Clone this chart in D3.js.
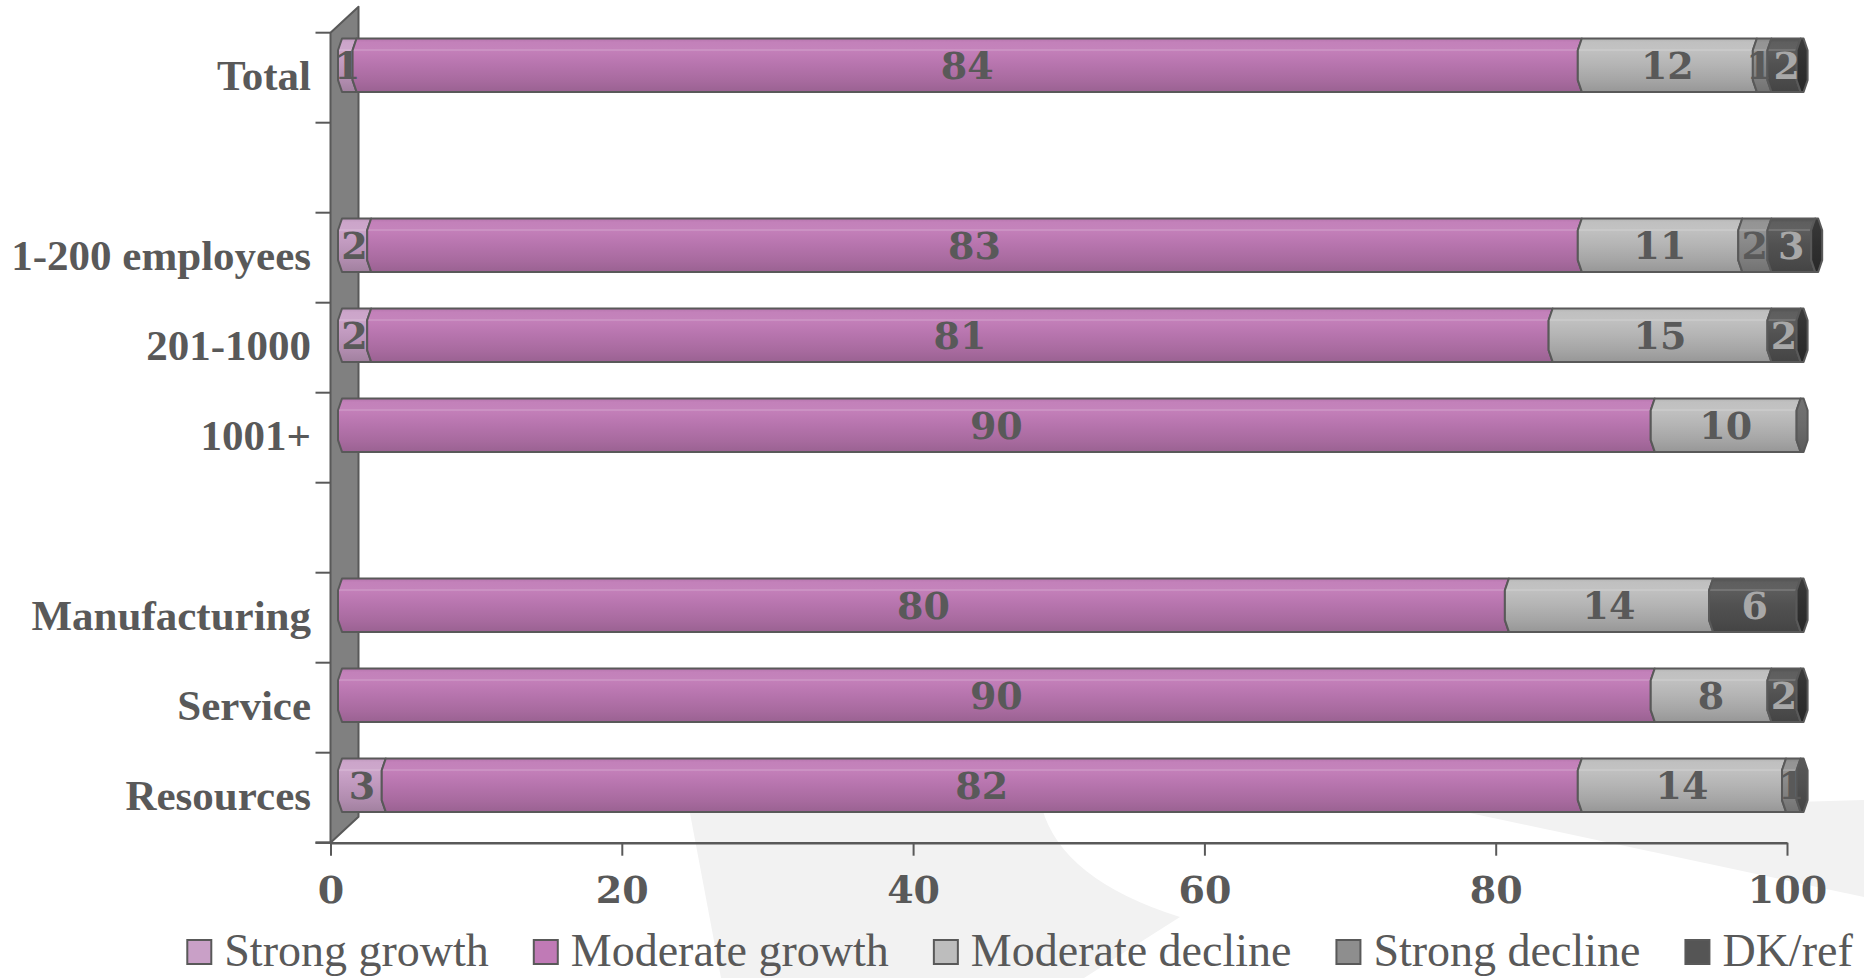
<!DOCTYPE html>
<html>
<head>
<meta charset="utf-8">
<script src="https://cdn.jsdelivr.net/npm/d3@7"></script>
<style>
  html, body { margin: 0; padding: 0; background: #ffffff; overflow: hidden; }
  svg { display: block; }
</style>
</head>
<body>
<svg id="chart" width="1864" height="978"></svg>
<script>
// ---- data -------------------------------------------------------------
// Empty strings are spacer rows between the groups of bars.
const categories = ["Total", "", "1-200 employees", "201-1000", "1001+", "", "Manufacturing", "Service", "Resources"];
const seriesNames = ["Strong growth", "Moderate growth", "Moderate decline", "Strong decline", "DK/ref"];
const strongGrowth    = [1,  null, 2,  2,  0,  null, 0,  0,  3];
const moderateGrowth  = [84, null, 83, 81, 90, null, 80, 90, 82];
const moderateDecline = [12, null, 11, 15, 10, null, 14, 8,  14];
const strongDecline   = [1,  null, 2,  0,  0,  null, 0,  0,  1];
const dkRef           = [2,  null, 3,  2,  0,  null, 6,  2,  0];
const xTicks = [0, 20, 40, 60, 80, 100];
const seriesColors = ["#c9a0c7", "#c07ab6", "#bdbdbd", "#8e8e8e", "#555555"];

// ---- setup ------------------------------------------------------------
const W = 1864, H = 978;
const ink = "#595959";
const svg = d3.select("#chart");
const defs = svg.append("defs");

const seriesValues = [strongGrowth, moderateGrowth, moderateDecline, strongDecline, dkRef];
const rows = categories.map((label, i) => {
  const r = { index: i, label, empty: moderateGrowth[i] == null };
  seriesNames.forEach((k, s) => { r[k] = seriesValues[s][i]; });
  return r;
});
const barRows = rows.filter(r => !r.empty);

// plot geometry
const plotTop = 32.7, plotBottom = 842.7;
const wallX = 330.5, depthX = 28, depthY = 26;

const y = d3.scaleBand().domain(d3.range(categories.length)).range([plotTop, plotBottom]).paddingInner(0).paddingOuter(0);
const xAxisScale = d3.scaleLinear().domain([0, 100]).range([wallX, 1787]);
// bars sit part-way into the depth of the 3D box, so they are offset from the axis scale
const xBar = d3.scaleLinear().domain([0, 100]).range([342, 1800.6]);
const barH = 53.4, barLift = 12.5;
const barTop = i => y(i) + (y.bandwidth() - barH) / 2 - barLift;

// ---- faint background swoosh -------------------------------------------
const bg = svg.append("g").attr("fill", "#f2f2f2");
bg.append("path").attr("d", "M689,808 L1042,808 Q1062,880 1180,917 L1084,978 L721,978 Z");
bg.append("path").attr("d", "M1465,812 L1864,800 L1864,897 Z");

// ---- side wall ----------------------------------------------------------
svg.append("path")
  .attr("d", `M${wallX},${plotTop} L${wallX + depthX},${plotTop - depthY} L${wallX + depthX},${plotBottom - depthY} L${wallX},${plotBottom} Z`)
  .attr("fill", "#808080").attr("stroke", ink).attr("stroke-width", 2).attr("stroke-linejoin", "round");

// category tick marks to the left of the wall
const boundaries = d3.range(categories.length + 1).map(i => plotTop + i * y.bandwidth());
svg.append("g").selectAll("line").data(boundaries).join("line")
  .attr("x1", wallX - 15).attr("x2", wallX).attr("y1", d => d).attr("y2", d => d)
  .attr("stroke", ink).attr("stroke-width", 2);

// ---- x axis -------------------------------------------------------------
const xAxis = d3.axisBottom(xAxisScale).tickValues(xTicks).tickSize(13).tickPadding(20).tickSizeOuter(0);
const gx = svg.append("g").attr("transform", `translate(0,${plotBottom})`).call(xAxis);
gx.select(".domain").attr("stroke", ink).attr("stroke-width", 2.5);
gx.selectAll(".tick line").attr("stroke", ink).attr("stroke-width", 2);
gx.selectAll(".tick text")
  .attr("fill", ink).attr("font-family", "'DejaVu Serif', serif").attr("font-weight", "bold")
  .attr("font-size", 38).attr("dy", "0.71em");
svg.append("line").attr("x1", wallX - 15).attr("x2", wallX).attr("y1", plotBottom).attr("y2", plotBottom)
  .attr("stroke", ink).attr("stroke-width", 2.5);

// ---- category labels --------------------------------------------------
svg.append("g").selectAll("text").data(rows.filter(r => r.label)).join("text")
  .attr("x", 311).attr("y", r => y(r.index) + y.bandwidth() / 2)
  .attr("dy", "0.28em")
  .attr("text-anchor", "end")
  .attr("font-family", "'Liberation Serif', serif").attr("font-weight", "bold").attr("font-size", 43)
  .attr("fill", ink)
  .text(r => r.label);

// ---- gradients for the prism-shaped bars --------------------------------
function shade(c, k) { return d3.interpolateRgb(c, k > 0 ? "#ffffff" : "#000000")(Math.abs(k)); }
seriesColors.forEach((c, s) => {
  const g = defs.append("linearGradient").attr("id", "grad" + s).attr("x1", 0).attr("y1", 0).attr("x2", 0).attr("y2", 1);
  [[0, -0.05], [0.07, 0.05], [0.19, 0.07], [0.2, 0.18], [0.225, 0.18], [0.235, 0.04], [0.5, -0.05], [0.8, -0.13], [1, -0.2]]
    .forEach(([o, k]) => g.append("stop").attr("offset", o).attr("stop-color", shade(c, k)));
  const gc = defs.append("linearGradient").attr("id", "cap" + s).attr("x1", 0).attr("y1", 0).attr("x2", 0).attr("y2", 1);
  const dark = d3.color(c).darker(1.6).formatHex();
  [[0, shade(dark, 0.05)], [0.5, dark], [1, shade(dark, -0.15)]]
    .forEach(([o, col]) => gc.append("stop").attr("offset", o).attr("stop-color", col));
});

// ---- stacked bars -------------------------------------------------------
const stacked = d3.stack().keys(seriesNames).value((d, k) => d[k] || 0)(barRows);
const bulge = 4, cutFrac = 0.22;

function segmentPath(x0, x1, t, h) {
  const b = t + h, c1 = t + h * cutFrac, c2 = b - h * cutFrac;
  return `M${x0},${t} L${x1},${t} L${x1 - bulge},${c1} L${x1 - bulge},${c2} L${x1},${b} ` +
         `L${x0},${b} L${x0 - bulge},${c2} L${x0 - bulge},${c1} Z`;
}
function capPath(x1, t, h) {
  const b = t + h, c1 = t + h * cutFrac, c2 = b - h * cutFrac;
  return `M${x1},${t} L${x1 + 3},${t} L${x1 + 7},${c1} L${x1 + 7},${c2} L${x1 + 3},${b} L${x1},${b} ` +
         `L${x1 - bulge},${c2} L${x1 - bulge},${c1} Z`;
}

const barsG = svg.append("g");
stacked.forEach((layer, s) => {
  barsG.append("g").selectAll("path").data(layer.filter(d => d[1] - d[0] > 0)).join("path")
    .attr("d", d => segmentPath(xBar(d[0]), xBar(d[1]), barTop(d.data.index), barH))
    .attr("fill", `url(#grad${s})`)
    .attr("stroke", ink).attr("stroke-width", 2).attr("stroke-linejoin", "round");
});

// end caps take a darker shade of each bar's last segment
const capsG = svg.append("g");
barRows.forEach(r => {
  let last = 0;
  seriesNames.forEach((k, s) => { if ((r[k] || 0) > 0) last = s; });
  const end = d3.sum(seriesNames, k => r[k] || 0);
  capsG.append("path")
    .attr("d", capPath(xBar(end), barTop(r.index), barH))
    .attr("fill", `url(#cap${last})`)
    .attr("stroke", ink).attr("stroke-width", 2).attr("stroke-linejoin", "round");
});

// value labels
const labelsG = svg.append("g")
  .attr("font-family", "'DejaVu Serif', serif").attr("font-weight", "bold").attr("font-size", 38)
  .attr("text-anchor", "middle");
stacked.forEach((layer, s) => {
  labelsG.append("g").selectAll("text").data(layer.filter(d => d[1] - d[0] > 0)).join("text")
    .attr("class", "val")
    .attr("data-row", d => d.data.index)
    .attr("x", d => (xBar(d[0]) + xBar(d[1])) / 2 - bulge / 2)
    .attr("y", d => barTop(d.data.index) + barH / 2)
    .attr("dy", "0.36em")
    .attr("fill", s === 4 ? "#a8a8a8" : ink)
    .text(d => d[1] - d[0]);
});

// nudge apart labels of neighbouring thin segments so they do not collide
barRows.forEach(r => {
  const nodes = labelsG.selectAll(`text.val[data-row="${r.index}"]`).nodes()
    .map(n => ({ n, x: +n.getAttribute("x"), w: n.getBBox().width }))
    .sort((a, b) => a.x - b.x);
  for (let i = 1; i < nodes.length; i++) {
    const a = nodes[i - 1], b = nodes[i];
    const need = (a.w + b.w) / 2 + 1 - (b.x - a.x);
    if (need > 0) {
      a.x -= need / 2; b.x += need / 2;
      a.n.setAttribute("x", a.x); b.n.setAttribute("x", b.x);
    }
  }
});

// ---- legend -------------------------------------------------------------
const legend = svg.append("g");
const sw = 26, gapText = 12, gapItem = 44, legendY = 940;
let cx = 0;
seriesNames.forEach((name, s) => {
  const item = legend.append("g").attr("transform", `translate(${cx},0)`);
  item.append("rect").attr("x", 1).attr("y", legendY).attr("width", sw - 2).attr("height", sw - 2)
    .attr("fill", seriesColors[s]).attr("stroke", ink).attr("stroke-width", 2);
  const t = item.append("text").attr("x", sw + gapText).attr("y", legendY + sw)
    .attr("font-family", "'Liberation Serif', serif").attr("font-size", 46).attr("fill", ink)
    .text(name);
  cx += sw + gapText + t.node().getComputedTextLength() + gapItem;
});
const legendW = cx - gapItem;
legend.attr("transform", `translate(${1019.5 - legendW / 2},0)`);
</script>
</body>
</html>
